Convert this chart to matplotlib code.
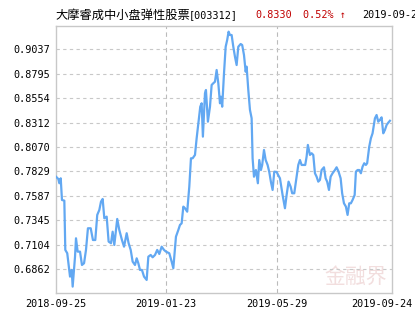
import matplotlib
matplotlib.use("Agg")
import matplotlib.pyplot as plt

# fund NAV, trading-day index vs value
day = [0, 1.7, 2.4, 3.4, 4.3, 6, 6.7, 8.1, 10.1, 11.3, 12, 13.7, 14.4, 15.6, 17.3, 18.7,
       20.2, 21.6, 23, 25, 26.6, 28.3, 29.7, 31.2, 32.4, 33.6, 34.8, 36.5, 37.9, 39.6,
       40.8, 42, 44.1, 45.6, 47.5, 49, 50.9, 52.3, 53.8, 55.2, 56.9, 58.1, 59.3, 60.5,
       61.9, 63.4, 65.3, 66.5, 68.2, 69.6, 71.3, 72.9, 74.4, 76.1, 77.8, 79.2, 81.6,
       83.3, 84.5, 86.4, 88.1, 89.3, 90.5, 91.7, 92.9, 94.5, 96, 97.2, 98.4, 100.1,
       101.3, 102.7, 103.9, 104.9, 105.8, 107.3, 108, 109.4, 110.9, 112.1, 113.3, 114.5,
       115.7, 116.9, 118.1, 118.8, 119.7, 121, 122.2, 123.3, 124.3, 125.3, 126.5, 127.7,
       128.9, 130.1, 131.3, 133, 134.1, 135.4, 136.6, 137.3, 138.5, 139.7, 140.9, 141.6,
       142.6, 144, 145.4, 146.4, 147.6, 148.5, 149.8, 151, 152.4, 153.6, 154.8, 156,
       157.2, 158.9, 160, 161.3, 163.2, 164.9, 166.1, 167.5, 169, 170.1, 171.6, 173.3,
       174.5, 175.7, 176.9, 179.5, 180.5, 181.4, 182.9, 184.1, 185.3, 186.5, 187.7,
       188.9, 190.1, 191.3, 193, 194.2, 195.3, 196.6, 197.8, 199.2, 200.9, 202.1, 203.5,
       205, 206.1, 207.4, 208.8, 210, 211.2, 212.4, 213.6, 215.1, 216, 217.2, 218.4,
       219.6, 220.8, 222, 223.2, 224.1, 225.6, 226.8, 228, 229.7, 230.9, 232.1, 233.3,
       234.5, 235.7, 236.9, 238.1, 239.3, 240.5]
nav = [0.7777, 0.7754, 0.7712, 0.7761, 0.7547, 0.7540, 0.7053, 0.7020, 0.6789, 0.6855,
       0.6690, 0.6986, 0.7168, 0.7036, 0.7036, 0.6904, 0.6921, 0.7053, 0.7267, 0.7267,
       0.7151, 0.7151, 0.7399, 0.7448, 0.7530, 0.7557, 0.7366, 0.7382, 0.7135, 0.7119,
       0.7233, 0.7102, 0.7359, 0.7250, 0.7151, 0.7085, 0.7218, 0.7119, 0.7053, 0.6937,
       0.6904, 0.6970, 0.6921, 0.6855, 0.6855, 0.6789, 0.6756, 0.6986, 0.7003, 0.6980,
       0.7003, 0.7053, 0.7013, 0.7085, 0.7053, 0.7036, 0.7020, 0.6937, 0.6872, 0.7184,
       0.7250, 0.7300, 0.7316, 0.7481, 0.7465, 0.7431, 0.7678, 0.7959, 0.7959, 0.7992,
       0.8157, 0.8321, 0.8469, 0.8503, 0.8173, 0.8602, 0.8634, 0.8321, 0.8469, 0.8684,
       0.8701, 0.8716, 0.8832, 0.8701, 0.8503, 0.8568, 0.8469, 0.8799, 0.9062, 0.9129,
       0.9211, 0.9178, 0.9178, 0.9062, 0.8963, 0.8881, 0.9062, 0.9089, 0.9079, 0.8980,
       0.8815, 0.8865, 0.8634, 0.8437, 0.8355, 0.7959, 0.7777, 0.7843, 0.7712, 0.7942,
       0.7843, 0.7893, 0.8041, 0.7942, 0.7893, 0.7824, 0.7725, 0.7646, 0.7827, 0.7824,
       0.7794, 0.7761, 0.7596, 0.7465, 0.7596, 0.7728, 0.7678, 0.7613, 0.7613, 0.7777,
       0.7893, 0.7942, 0.7893, 0.7893, 0.7975, 0.8091, 0.7992, 0.8009, 0.7992, 0.7811,
       0.7777, 0.7728, 0.7745, 0.7843, 0.7870, 0.7761, 0.7728, 0.7646, 0.7777, 0.7811,
       0.7843, 0.7870, 0.7827, 0.7761, 0.7613, 0.7514, 0.7481, 0.7399, 0.7514, 0.7514,
       0.7547, 0.7596, 0.7827, 0.7843, 0.7843, 0.7811, 0.7876, 0.7910, 0.7893, 0.7910,
       0.8074, 0.8157, 0.8206, 0.8354, 0.8387, 0.8321, 0.8338, 0.8364, 0.8206, 0.8239,
       0.8288, 0.8311, 0.8330]

yticks = [0.6862, 0.7104, 0.7345, 0.7587, 0.7829, 0.8070, 0.8312, 0.8554, 0.8795, 0.9037]
date_labels = ["2018-09-25", "2019-01-23", "2019-05-29", "2019-09-24"]
date_pos = [0, 79.2, 159.1, 234.7]

fund_name = "大摩睿成中小盘弹性股票"
fund_code = "[003312]"
last_nav = "0.8330"
change = "0.52% ↑"
last_date = "2019-09-24"

mono = "DejaVu Sans Mono"
grey = "#c8c8c8"

fig = plt.figure(figsize=(4.15, 3.3), dpi=100)
ax = fig.add_axes([56 / 415, 37 / 330, 336 / 415, 267 / 330])

ax.plot(day, nav, color="#62a8f2", lw=1.6, solid_joinstyle="round", zorder=3)

ax.set_xlim(0, 242)
ax.set_ylim(0.6627, 0.9267)

ax.set_yticks(yticks)
ax.set_yticklabels([f"{v:.4f}" for v in yticks], fontfamily=mono, fontsize=7.3)
ax.grid(axis="y", color=grey, ls=(0, (3, 3)), lw=0.8)
for p in date_pos[1:3]:
    ax.axvline(p, color="#bbbbbb", ls=(0, (4, 3)), lw=0.8, zorder=1)

ax.set_xticks(date_pos)
ax.set_xticklabels(date_labels, fontfamily=mono, fontsize=7.3)
ax.tick_params(length=0, pad=4)

for s in ax.spines.values():
    s.set_color(grey)
    s.set_linewidth(1)

# watermark
ax.text(0.985, 0.02, "金融界", transform=ax.transAxes, ha="right", va="bottom",
        fontsize=15, color="#f2dede", family=["Noto Sans CJK SC", "DejaVu Sans"], zorder=0)

# header
fig.text(55 / 415, 1 - 15 / 330, fund_name, ha="left", va="center", fontsize=8.8,
         family=["Noto Sans CJK SC", "DejaVu Sans"])
fig.text(189 / 415, 1 - 15 / 330, fund_code, ha="left", va="center", fontsize=7.3,
         family=mono)
fig.text(255 / 415, 1 - 15 / 330, last_nav, ha="left", va="center", fontsize=7.3,
         family=mono, color="#c00000")
fig.text(303 / 415, 1 - 15 / 330, change, ha="left", va="center", fontsize=7.3,
         family=mono, color="#c00000")
fig.text(362 / 415, 1 - 15 / 330, last_date, ha="left", va="center", fontsize=7.3,
         family=mono)

fig.savefig("out.png", dpi=100)
